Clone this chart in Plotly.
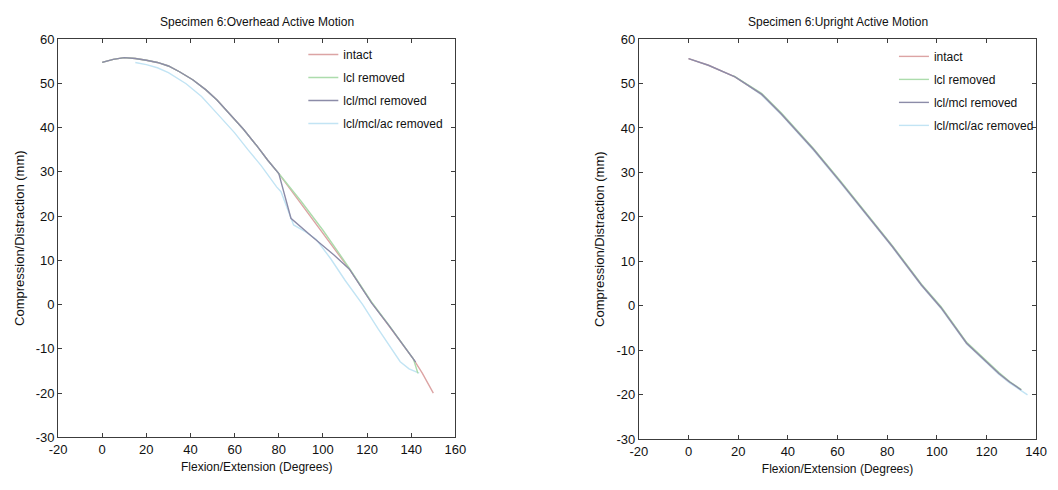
import plotly.graph_objects as go

# ---- Overhead active motion (specimen 6) ----
oh_intact_x = [0, 5, 10, 15, 20, 25, 30, 35, 41, 47, 52, 58, 64, 70, 75, 80, 90, 100, 112, 122, 130, 141, 145, 150]
oh_intact_y = [54.7, 55.4, 55.8, 55.6, 55.2, 54.7, 53.9, 52.6, 50.8, 48.5, 46.2, 43.0, 39.6, 35.9, 32.6, 29.6,
               22.9, 16.3, 8.0, 0.5, -4.8, -12.3, -15.5, -20.0]

oh_lcl_x = [0, 5, 10, 15, 20, 25, 30, 35, 41, 47, 52, 58, 64, 70, 75, 80, 90, 100, 112, 122, 130, 141, 143]
oh_lcl_y = [54.7, 55.4, 55.8, 55.6, 55.2, 54.7, 53.9, 52.6, 50.8, 48.5, 46.2, 43.0, 39.6, 35.9, 32.6, 29.6,
            23.4, 16.8, 8.2, 0.6, -4.7, -12.3, -15.5]

oh_lclmcl_x = [0, 5, 10, 15, 20, 25, 30, 35, 41, 47, 52, 58, 64, 70, 75, 80, 85.5, 95, 105, 112, 122, 130, 141, 142]
oh_lclmcl_y = [54.7, 55.4, 55.8, 55.6, 55.2, 54.7, 53.9, 52.6, 50.8, 48.5, 46.2, 43.0, 39.6, 35.9, 32.6, 29.6,
               19.5, 15.4, 11.2, 8.0, 0.4, -4.8, -12.3, -13.0]

oh_ac_x = [15, 20, 25, 30, 38, 45, 52, 60, 66, 72, 79, 81, 86.7, 92, 97, 103.6, 110, 118, 125, 130, 135, 139, 143.6]
oh_ac_y = [54.7, 54.2, 53.5, 52.4, 49.9, 47.0, 43.2, 38.8, 35.0, 31.4, 26.6, 25.5, 18.0, 16.5, 14.7, 10.3,
           5.5, 0.0, -5.5, -9.2, -12.9, -14.5, -15.5]

# ---- Upright active motion (specimen 6) ----
up_intact_x = [0, 8, 18.7, 29.4, 37.3, 50.3, 61, 71.3, 82, 93.8, 101.7, 112, 118.7, 125, 129.3]
up_intact_y = [55.6, 54.1, 51.5, 47.6, 43.2, 35.2, 28.0, 20.8, 13.4, 4.7, -0.4, -8.4, -11.9, -15.2, -17.1]

up_lcl_x = [18, 29.4, 37.3, 50.3, 61, 71.3, 82, 93.8, 101.7, 112, 118.7, 125, 129.3, 134]
up_lcl_y = [51.8, 47.8, 43.4, 35.4, 28.2, 21.0, 13.6, 4.9, -0.2, -8.2, -11.7, -15.0, -17.0, -18.8]

up_lclmcl_x = [0, 8, 18.7, 29.4, 37.3, 50.3, 61, 71.3, 82, 93.8, 101.7, 112, 118.7, 125, 129.3, 134]
up_lclmcl_y = [55.6, 54.1, 51.5, 47.6, 43.2, 35.2, 28.0, 20.8, 13.4, 4.7, -0.4, -8.4, -11.9, -15.2, -17.1, -18.9]

up_ac_x = [20, 29.4, 37.3, 50.3, 61, 71.3, 82, 93.8, 101.7, 112, 118.7, 125, 129.3, 136.5]
up_ac_y = [51.0, 47.4, 43.0, 35.0, 27.8, 20.6, 13.2, 4.5, -0.6, -8.6, -12.1, -15.4, -17.3, -20.0]

series_names = ["intact", "lcl removed", "lcl/mcl removed", "lcl/mcl/ac removed"]
series_colors = ["#dca4a4", "#acdcac", "#8c8ca8", "#c2e4f4"]

x_ticks_oh = [-20, 0, 20, 40, 60, 80, 100, 120, 140, 160]
x_ticks_up = [-20, 0, 20, 40, 60, 80, 100, 120, 140]
y_ticks = [-30, -20, -10, 0, 10, 20, 30, 40, 50, 60]

FONT = "Liberation Sans Narrow, Liberation Sans, Arial, sans-serif"

fig = go.Figure()

oh_data = [(oh_intact_x, oh_intact_y), (oh_lcl_x, oh_lcl_y),
           (oh_lclmcl_x, oh_lclmcl_y), (oh_ac_x, oh_ac_y)]
up_data = [(up_intact_x, up_intact_y), (up_lcl_x, up_lcl_y),
           (up_lclmcl_x, up_lclmcl_y), (up_ac_x, up_ac_y)]

# draw order: light cyan first, grey-blue last so it sits on top
order = [3, 0, 1, 2]

for i in order:
    xs, ys = oh_data[i]
    fig.add_trace(go.Scatter(
        x=xs, y=ys, mode="lines", name=series_names[i],
        line=dict(color=series_colors[i], width=1.4),
        xaxis="x", yaxis="y", legend="legend",
        legendgroup="oh" + str(i), legendrank=i + 1,
    ))
for i in order:
    xs, ys = up_data[i]
    fig.add_trace(go.Scatter(
        x=xs, y=ys, mode="lines", name=series_names[i],
        line=dict(color=series_colors[i], width=1.4),
        xaxis="x2", yaxis="y2", legend="legend2",
        legendgroup="up" + str(i), legendrank=i + 1,
    ))

W, H = 1058, 490


def tick_text(vals):
    # plain hyphen for negative numbers
    return [str(v) for v in vals]


def axis_common():
    return dict(
        showline=True, mirror="ticks", linecolor="#3c3c3c", linewidth=1,
        ticks="inside", ticklen=4, tickcolor="#3c3c3c",
        showgrid=False, zeroline=False,
        tickfont=dict(family=FONT, size=13, color="#111111"),
    )


fig.update_layout(
    width=W, height=H,
    margin=dict(l=0, r=0, t=0, b=0),
    paper_bgcolor="white", plot_bgcolor="white",
    font=dict(family=FONT, color="#111111"),
    xaxis=dict(domain=[50 / W, 455 / W], range=[-20, 160],
               tickvals=x_ticks_oh, ticktext=tick_text(x_ticks_oh),
               title=dict(text="Flexion/Extension (Degrees)", font=dict(size=12), standoff=6),
               anchor="y", **axis_common()),
    yaxis=dict(domain=[1 - 444 / H, 1 - 33 / H], range=[-30, 60],
               tickvals=y_ticks, ticktext=tick_text(y_ticks),
               title=dict(text="Compression/Distraction (mm)", font=dict(size=13), standoff=8),
               anchor="x", **axis_common()),
    xaxis2=dict(domain=[642 / W, 1047 / W], range=[-20, 140],
                tickvals=x_ticks_up, ticktext=tick_text(x_ticks_up),
                title=dict(text="Flexion/Extension (Degrees)", font=dict(size=12), standoff=6),
                anchor="y2", **axis_common()),
    yaxis2=dict(domain=[1 - 446 / H, 1 - 33 / H], range=[-30, 60],
                tickvals=y_ticks, ticktext=tick_text(y_ticks),
                title=dict(text="Compression/Distraction (mm)", font=dict(size=13), standoff=8),
                anchor="x2", **axis_common()),
    legend=dict(x=300 / W, y=1 - 34 / H, xanchor="left", yanchor="top",
                bgcolor="rgba(0,0,0,0)", font=dict(family=FONT, size=12),
                tracegroupgap=4),
    legend2=dict(x=902 / W, y=1 - 36 / H, xanchor="left", yanchor="top",
                 bgcolor="rgba(0,0,0,0)", font=dict(family=FONT, size=12),
                 tracegroupgap=4),
    annotations=[
        dict(text="Specimen 6:Overhead Active Motion", x=(50 + 455) / 2 / W, y=1 - 15 / H,
             xref="paper", yref="paper", showarrow=False, xanchor="center", yanchor="middle",
             font=dict(family=FONT, size=12, color="#111111")),
        dict(text="Specimen 6:Upright Active Motion", x=(642 + 1047) / 2 / W, y=1 - 15 / H,
             xref="paper", yref="paper", showarrow=False, xanchor="center", yanchor="middle",
             font=dict(family=FONT, size=12, color="#111111")),
    ],
)

fig.write_html("out.html")
